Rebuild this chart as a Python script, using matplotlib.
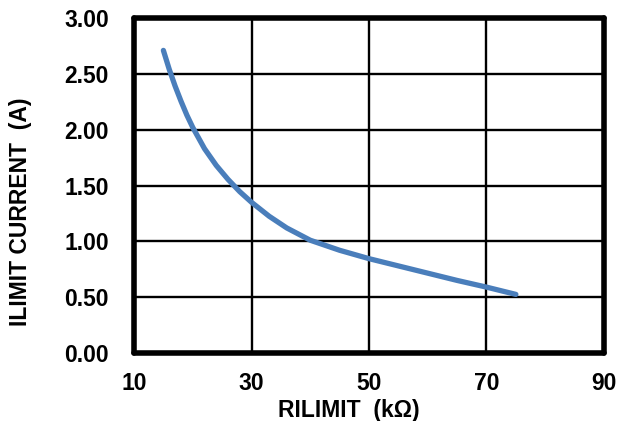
import matplotlib
matplotlib.use("Agg")
import matplotlib.pyplot as plt

r_kohm = [15, 16, 17, 18, 19, 20, 22, 24, 26, 28, 30, 33, 36, 40, 45, 50, 55, 60, 65, 70, 75]
i_limit = [2.71, 2.54, 2.39, 2.255, 2.13, 2.02, 1.83, 1.68, 1.555, 1.445, 1.35, 1.225, 1.12, 1.01,
           0.92, 0.845, 0.78, 0.715, 0.65, 0.59, 0.525]
x_ticks = [10, 30, 50, 70, 90]
y_ticks = [0.0, 0.5, 1.0, 1.5, 2.0, 2.5, 3.0]

plt.rcParams['font.family'] = ['Liberation Sans', 'DejaVu Sans']
fig = plt.figure(figsize=(6.21, 4.21), dpi=100)
ax = fig.add_axes([0.2158, 0.1615, 0.7568, 0.7957])
ax.plot(r_kohm, i_limit, color='#4a7ebb', lw=3.8, solid_capstyle='round',
        solid_joinstyle='round', zorder=3)
ax.set_xlim(10, 90)
ax.set_ylim(0, 3)
ax.set_xticks(x_ticks)
ax.set_yticks(y_ticks)
ax.set_xticklabels([str(v) for v in x_ticks], fontsize=16.5, fontweight='bold')
ax.set_yticklabels([f"{v:.2f}" for v in y_ticks], fontsize=16.5, fontweight='bold')
ax.tick_params(length=0)
ax.tick_params(axis='y', pad=18)
ax.tick_params(axis='x', pad=13.5)
ax.grid(True, color='black', lw=1.7)
for s in ax.spines.values():
    s.set_linewidth(4)
    s.set_capstyle('round')
ax.set_xlabel('RILIMIT  (kΩ)', fontsize=16.5, fontweight='bold')
ax.set_ylabel('ILIMIT CURRENT  (A)', fontsize=16.5, fontweight='bold')
ax.xaxis.set_label_coords(0.456, -0.137)
ax.yaxis.set_label_coords(-0.218, 0.422)
fig.savefig('out.png', dpi=100)
